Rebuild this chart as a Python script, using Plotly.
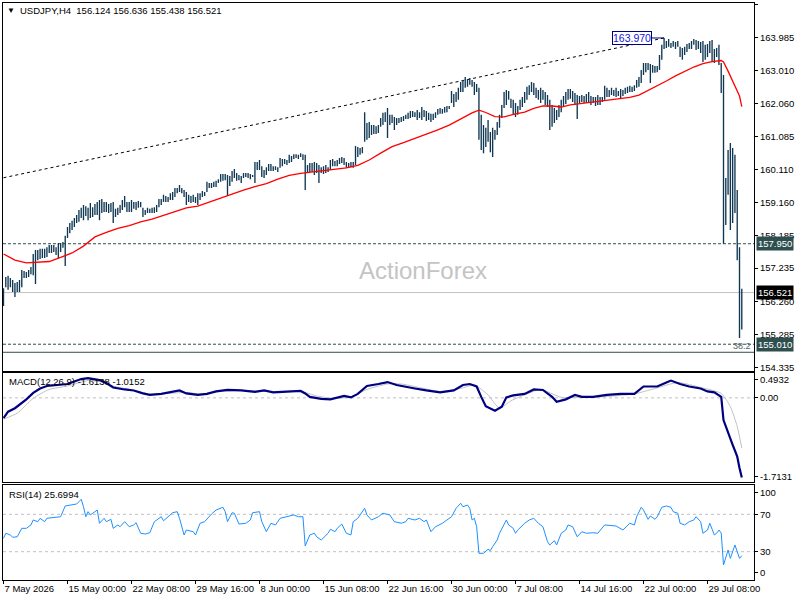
import plotly.graph_objects as go

# ---------------- data ----------------
tick_labels = ["7 May 2026", "15 May 00:00", "22 May 08:00", "29 May 16:00", "8 Jun 00:00",
               "15 Jun 08:00", "22 Jun 16:00", "30 Jun 00:00", "7 Jul 08:00", "14 Jul 16:00",
               "22 Jul 00:00", "29 Jul 08:00"]
bars_per_label = 28

highs = [
    156.65, 156.98, 157.01, 156.95, 156.89, 156.80, 156.83, 156.89, 157.18, 157.15,
    157.12, 157.18, 157.27, 157.65, 157.77, 157.77, 157.80, 157.80, 157.80, 157.85,
    157.91, 157.91, 157.91, 157.85, 157.97, 157.97, 158.00, 158.18, 158.44, 158.56,
    158.62, 158.70, 158.79, 158.94, 159.00, 159.08, 159.05, 159.00, 159.14, 159.02,
    159.11, 159.17, 159.23, 159.26, 159.17, 159.17, 159.11, 159.14, 159.17, 158.97,
    159.00, 159.08, 159.23, 159.35, 159.17, 159.17, 159.23, 159.17, 159.17, 159.20,
    159.17, 159.00, 158.94, 159.00, 158.97, 159.00, 159.02, 159.08, 159.26, 159.26,
    159.38, 159.35, 159.32, 159.43, 159.46, 159.58, 159.58, 159.67, 159.58, 159.52,
    159.46, 159.38, 159.35, 159.38, 159.32, 159.43, 159.43, 159.49, 159.46, 159.76,
    159.73, 159.73, 159.76, 159.79, 159.84, 159.99, 159.99, 159.99, 159.96, 159.93,
    160.08, 160.14, 160.02, 159.96, 159.93, 160.02, 160.02, 160.02, 159.99, 159.96,
    160.34, 160.34, 160.40, 160.22, 160.11, 160.19, 160.28, 160.28, 160.22, 160.22,
    160.19, 160.46, 160.43, 160.43, 160.40, 160.55, 160.52, 160.57, 160.57, 160.55,
    160.60, 160.57, 160.55, 160.25, 160.31, 160.31, 160.34, 160.31, 160.25, 160.19,
    160.22, 160.25, 160.19, 160.40, 160.43, 160.37, 160.40, 160.46, 160.49, 160.46,
    160.34, 160.31, 160.34, 160.34, 160.81, 160.78, 160.75, 160.78, 161.80, 161.48,
    161.51, 161.42, 161.42, 161.39, 161.42, 161.63, 161.78, 161.80, 161.92, 161.72,
    161.72, 161.66, 161.63, 161.63, 161.66, 161.69, 161.72, 161.78, 161.83, 161.83,
    161.80, 161.86, 161.80, 161.95, 161.86, 161.83, 161.78, 161.75, 161.75, 161.80,
    161.89, 161.92, 161.89, 161.95, 161.98, 161.98, 162.42, 162.33, 162.39, 162.51,
    162.68, 162.74, 162.83, 162.77, 162.80, 162.74, 162.68, 162.62, 162.51, 161.72,
    161.42, 161.34, 161.57, 161.22, 161.34, 161.28, 161.51, 161.72, 162.01, 162.39,
    162.45, 162.42, 162.19, 162.16, 162.07, 161.98, 162.16, 162.24, 162.39, 162.54,
    162.59, 162.68, 162.65, 162.51, 162.45, 162.51, 162.45, 162.39, 162.30, 162.16,
    162.01, 161.92, 161.86, 162.01, 162.16, 162.27, 162.39, 162.48, 162.48, 162.42,
    162.36, 162.30, 162.27, 162.30, 162.27, 162.33, 162.39, 162.27, 162.24, 162.24,
    162.30, 162.24, 162.24, 162.57, 162.51, 162.45, 162.51, 162.45, 162.51, 162.42,
    162.48, 162.45, 162.51, 162.54, 162.57, 162.54, 162.59, 162.74, 162.83, 163.03,
    163.24, 163.24, 163.24, 163.21, 163.18, 163.15, 163.15, 163.47, 163.77, 163.97,
    163.88, 163.94, 163.82, 163.88, 163.85, 163.88, 163.71, 163.68, 163.71, 163.79,
    163.82, 163.88, 163.94, 163.91, 163.88, 163.85, 163.88, 163.77, 163.79, 163.88,
    163.91, 163.65, 163.68, 163.77, 163.24, 162.89, 159.87, 160.69, 160.90, 160.75,
    160.55, 159.52, 157.85, 156.636,
]

lows = [
    156.13, 156.68, 156.60, 156.68, 156.54, 156.39, 156.54, 156.54, 156.68, 156.95,
    156.95, 156.98, 157.06, 157.03, 156.77, 157.47, 157.50, 157.53, 157.53, 157.56,
    157.68, 157.68, 157.71, 157.62, 157.53, 157.71, 157.83, 157.30, 158.12, 158.26,
    158.35, 158.44, 158.56, 158.59, 158.70, 158.64, 158.76, 158.64, 158.70, 158.73,
    158.79, 158.79, 158.64, 158.85, 158.88, 158.88, 158.85, 158.88, 158.56, 158.73,
    158.79, 158.85, 158.94, 159.02, 158.88, 158.88, 158.88, 158.97, 158.94, 159.00,
    159.02, 158.73, 158.79, 158.85, 158.85, 158.85, 158.85, 158.88, 159.02, 159.08,
    159.17, 159.17, 159.17, 159.23, 159.23, 159.32, 159.43, 159.46, 159.43, 159.32,
    159.08, 159.17, 159.14, 159.17, 159.14, 159.08, 159.23, 159.32, 159.35, 159.46,
    159.58, 159.58, 159.61, 159.61, 159.73, 159.76, 159.79, 159.81, 159.35, 159.64,
    159.76, 159.87, 159.79, 159.81, 159.73, 159.87, 159.90, 159.87, 159.84, 159.90,
    159.73, 160.11, 160.11, 159.90, 159.87, 159.96, 160.08, 160.08, 160.08, 160.11,
    160.05, 160.17, 160.22, 160.28, 160.25, 160.31, 160.34, 160.43, 160.46, 160.43,
    160.49, 160.40, 159.52, 160.02, 160.05, 160.05, 159.96, 160.02, 159.73, 160.02,
    159.99, 160.02, 160.05, 160.11, 160.22, 160.22, 160.22, 160.28, 160.31, 160.25,
    160.17, 160.17, 160.19, 160.17, 160.25, 160.49, 160.55, 160.60, 160.93, 160.99,
    161.04, 161.13, 161.16, 161.16, 161.19, 161.37, 161.42, 161.51, 161.04, 161.42,
    161.48, 161.28, 161.42, 161.48, 161.51, 161.54, 161.60, 161.60, 161.63, 161.66,
    161.66, 161.57, 161.63, 161.57, 161.66, 161.54, 161.57, 161.51, 161.57, 161.63,
    161.72, 161.75, 161.75, 161.78, 161.80, 161.89, 162.07, 161.95, 162.10, 162.16,
    162.39, 162.39, 162.51, 162.54, 162.60, 162.54, 162.30, 162.39, 160.99, 160.69,
    160.60, 160.78, 160.93, 160.63, 160.49, 160.99, 161.13, 161.34, 161.63, 161.92,
    162.01, 162.16, 161.92, 161.72, 161.66, 161.72, 161.86, 161.95, 162.07, 162.16,
    162.30, 162.39, 162.30, 162.21, 162.16, 162.07, 162.16, 162.01, 161.95, 161.28,
    161.37, 161.48, 161.57, 161.66, 161.80, 161.95, 162.04, 162.16, 162.19, 162.10,
    162.01, 161.60, 162.07, 162.10, 162.07, 162.07, 162.10, 162.01, 162.07, 161.98,
    162.01, 162.01, 162.10, 162.16, 162.24, 162.24, 162.30, 162.27, 162.24, 162.27,
    162.21, 162.27, 162.33, 162.36, 162.39, 162.39, 162.42, 162.51, 162.54, 162.65,
    162.89, 162.97, 163.03, 162.65, 162.95, 162.95, 162.97, 163.03, 163.33, 163.65,
    163.68, 163.71, 163.68, 163.71, 163.65, 163.71, 163.41, 163.33, 163.47, 163.56,
    163.65, 163.65, 163.77, 163.62, 163.65, 163.53, 163.27, 163.33, 163.41, 163.53,
    163.27, 163.24, 163.41, 163.18, 162.36, 157.95, 158.50, 159.38, 158.35, 158.56,
    158.85, 157.47, 155.19, 155.438,
]

ma_idx = [0, 5, 10, 15, 20, 25, 30, 35, 40, 45, 50, 55, 60, 65, 70, 75, 80, 85, 90, 95,
          100, 105, 110, 115, 120, 125, 130, 135, 140, 145, 150, 155, 160, 165, 170, 175,
          180, 185, 190, 195, 200, 205, 208, 211, 215, 219, 224, 228, 232, 236, 240, 244,
          248, 253, 260, 267, 274, 278, 282, 286, 290, 294, 298, 302, 306, 310, 314, 315,
          317, 319, 321, 322, 323]
ma_val = [157.65, 157.47, 157.39, 157.40, 157.43, 157.55, 157.68, 157.88, 158.15, 158.28,
          158.40, 158.48, 158.59, 158.67, 158.78, 158.89, 159.00, 159.05, 159.17, 159.27,
          159.39, 159.52, 159.62, 159.71, 159.84, 159.95, 160.01, 160.05, 160.08, 160.12,
          160.17, 160.24, 160.40, 160.60, 160.79, 160.91, 161.03, 161.15, 161.28, 161.42,
          161.60, 161.78, 161.86, 161.79, 161.67, 161.66, 161.75, 161.80, 161.91, 161.98,
          161.98, 161.95, 162.01, 162.05, 162.10, 162.16, 162.23, 162.30, 162.43, 162.56,
          162.71, 162.86, 163.00, 163.12, 163.22, 163.28, 163.31, 163.27, 163.00, 162.71,
          162.45, 162.27, 161.96]

macd_idx = [0, 2, 5, 7, 10, 13, 16, 19, 23, 28, 31, 34, 37, 40, 42, 45, 48, 53, 57, 61,
            64, 69, 73, 77, 80, 85, 89, 93, 98, 104, 110, 114, 118, 124, 130, 132, 134, 139,
            143, 149, 152, 155, 159, 164, 168, 172, 174, 180, 185, 191, 197, 201, 204, 207,
            209, 211, 215, 218, 220, 223, 228, 232, 236, 240, 242, 246, 250, 253, 258, 264,
            270, 276, 280, 286, 290, 292, 296, 300, 305, 308, 311, 314, 315, 317, 319, 320,
            321, 322, 323]
macd_val = [-0.41, -0.28, -0.21, -0.14, -0.03, 0.10, 0.19, 0.24, 0.26, 0.28, 0.33, 0.38,
            0.40, 0.38, 0.36, 0.30, 0.21, 0.17, 0.15, 0.09, 0.06, 0.08, 0.11, 0.15, 0.09,
            0.06, 0.08, 0.13, 0.16, 0.15, 0.12, 0.15, 0.11, 0.13, 0.14, 0.09, 0.02, -0.02,
            -0.03, 0.04, 0.01, 0.08, 0.24, 0.28, 0.32, 0.26, 0.24, 0.19, 0.15, 0.11, 0.15,
            0.26, 0.28, 0.23, 0.02, -0.17, -0.26, -0.18, 0.01, 0.05, 0.08, 0.17, 0.16, 0.02,
            -0.08, -0.03, 0.06, 0.02, 0.02, 0.06, 0.08, 0.08, 0.23, 0.23, 0.31, 0.35, 0.28,
            0.23, 0.19, 0.13, 0.11, 0.02, -0.45, -0.72, -0.95, -1.07, -1.19, -1.42, -1.6138]

signal_idx = [0, 6, 13, 20, 28, 37, 42, 48, 57, 64, 72, 80, 86, 95, 104, 118, 130, 137, 144,
              152, 159, 168, 174, 182, 191, 200, 206, 212, 217, 222, 229, 235, 244, 250, 261,
              276, 285, 295, 305, 314, 318, 321, 323]
signal_val = [-0.43, -0.31, -0.01, 0.17, 0.24, 0.35, 0.33, 0.24, 0.15, 0.08, 0.09, 0.11,
              0.08, 0.13, 0.15, 0.13, 0.13, 0.04, -0.01, 0.02, 0.17, 0.28, 0.28, 0.21, 0.13,
              0.19, 0.26, 0.06, -0.21, -0.06, 0.08, 0.17, 0.01, 0.01, 0.02, 0.08, 0.19, 0.31,
              0.21, 0.09, -0.18, -0.58, -1.0152]

rsi_points = [
    (0, 44.3), (1, 49.7), (3, 47.9), (4, 45.4), (6, 46.0), (8, 55.0), (10, 55.0), (12, 58.6),
    (13, 63.9), (15, 62.1), (16, 65.7), (18, 62.1), (19, 65.7), (22, 66.8), (25, 67.4),
    (27, 78.9), (29, 79.9), (32, 81.0), (33, 83.5), (34, 86.0), (35, 78.1), (36, 67.4),
    (37, 72.8), (38, 69.3), (40, 72.8), (41, 74.6), (42, 60.4), (44, 65.7), (45, 62.1),
    (47, 64.6), (48, 55.0), (50, 58.6), (51, 56.7), (53, 62.1), (55, 56.7), (57, 58.6),
    (58, 61.0), (60, 49.7), (62, 48.9), (64, 50.3), (66, 62.1), (69, 67.4), (70, 63.1),
    (72, 67.4), (74, 71.7), (76, 72.8), (77, 65.7), (79, 47.9), (80, 53.2), (83, 51.4),
    (84, 47.9), (86, 60.4), (88, 62.1), (91, 70.3), (93, 74.6), (96, 77.5), (97, 72.8),
    (98, 62.1), (100, 71.7), (101, 71.1), (103, 59.6), (106, 60.4), (108, 63.9), (109, 71.7),
    (112, 72.8), (113, 62.1), (115, 51.4), (117, 60.4), (119, 58.6), (121, 65.7), (124, 67.4),
    (127, 69.3), (129, 67.4), (131, 67.4), (132, 36.1), (134, 47.9), (136, 49.7), (137, 46.0),
    (139, 42.5), (142, 49.7), (143, 54.0), (145, 51.4), (146, 55.0), (148, 59.6), (150, 49.7),
    (152, 47.9), (153, 62.1), (155, 65.7), (158, 76.4), (159, 69.3), (161, 63.9), (164, 67.4),
    (166, 71.1), (169, 69.3), (171, 62.1), (174, 60.4), (176, 62.1), (177, 65.7), (180, 63.9),
    (182, 65.7), (184, 62.1), (185, 63.9), (187, 51.4), (189, 56.7), (192, 60.4), (196, 67.4),
    (198, 76.4), (200, 81.8), (201, 78.1), (203, 79.9), (204, 76.4), (205, 63.9), (206, 65.7),
    (207, 56.7), (208, 28.3), (210, 28.3), (212, 32.6), (213, 31.1), (214, 35.4), (216, 42.5),
    (217, 49.7), (219, 60.4), (220, 63.9), (221, 58.6), (223, 55.0), (224, 49.7), (225, 53.2),
    (228, 60.4), (230, 63.9), (232, 65.7), (234, 60.4), (236, 56.7), (238, 40.7), (239, 37.2),
    (241, 41.8), (242, 37.2), (244, 49.7), (246, 53.2), (247, 58.6), (249, 56.7), (251, 46.0),
    (253, 51.4), (255, 49.7), (258, 50.3), (260, 49.7), (263, 58.6), (266, 57.5), (268, 57.5),
    (271, 53.2), (273, 58.6), (274, 60.4), (276, 58.6), (277, 67.4), (279, 77.5), (280, 74.6),
    (282, 64.6), (283, 68.2), (285, 64.6), (286, 67.4), (288, 77.5), (290, 78.9), (292, 77.5),
    (293, 72.8), (295, 71.1), (296, 60.4), (298, 58.6), (300, 62.1), (302, 63.9), (303, 67.4),
    (305, 62.1), (306, 49.7), (308, 53.2), (309, 60.4), (311, 47.9), (312, 49.7), (313, 53.2),
    (314, 50.0), (315, 15.8), (316, 24.7), (317, 31.8), (318, 22.9), (320, 37.2), (321, 30.0),
    (322, 22.9), (323, 25.6994),
]

price_ticks = [164.935, 163.985, 163.010, 162.060, 161.085, 160.110, 159.160,
               158.185, 157.235, 156.260, 155.285, 154.335]
trend_idx = [0, 289]
trend_price = [159.88, 163.970]
marked_high = 163.970
dashed_levels = [157.950, 155.010]
solid_level = 154.774
last_price = 156.521
fib_label = "38.2"
header = "USDJPY,H4\u00a0\u00a0156.124 156.636 155.438 156.521"
macd_header = "MACD(12,26,9) -1.6138 -1.0152"
rsi_header = "RSI(14) 25.6994"

assert len(highs) == len(lows)
assert len(ma_idx) == len(ma_val)
assert len(macd_idx) == len(macd_val)
assert len(signal_idx) == len(signal_val)

# ---------------- figure ----------------
FONT = "Liberation Sans, Arial, sans-serif"
BAR_COLOR = "#0f3752"
SLATE = "#2f4f4f"

bar_x, bar_y = [], []
for i, (lo, hi) in enumerate(zip(lows, highs)):
    bar_x += [i, i, None]
    bar_y += [lo, hi, None]

rsi_idx = [p[0] for p in rsi_points]
rsi_val = [p[1] for p in rsi_points]

fig = go.Figure()

fig.add_trace(go.Scatter(x=trend_idx, y=trend_price, mode="lines",
                         line=dict(color="black", width=1, dash="3px,3px"),
                         xaxis="x", yaxis="y", hoverinfo="skip"))
fig.add_trace(go.Scatter(x=bar_x, y=bar_y, mode="lines",
                         line=dict(color=BAR_COLOR, width=1.35),
                         xaxis="x", yaxis="y", hoverinfo="skip"))
fig.add_trace(go.Scatter(x=ma_idx, y=ma_val, mode="lines",
                         line=dict(color="#ff0000", width=1.3),
                         xaxis="x", yaxis="y", hoverinfo="skip"))

fig.add_trace(go.Scatter(x=signal_idx, y=signal_val, mode="lines",
                         line=dict(color="#c0c0c0", width=1, shape="spline", smoothing=0.6),
                         xaxis="x2", yaxis="y2", hoverinfo="skip"))
fig.add_trace(go.Scatter(x=macd_idx, y=macd_val, mode="lines",
                         line=dict(color="#000080", width=2.2),
                         xaxis="x2", yaxis="y2", hoverinfo="skip"))

fig.add_trace(go.Scatter(x=rsi_idx, y=rsi_val, mode="lines",
                         line=dict(color="#1e90ff", width=1),
                         xaxis="x3", yaxis="y3", hoverinfo="skip"))

x_range = [-0.22, 328.34]
common_x = dict(range=x_range, showgrid=False, zeroline=False, showline=True,
                mirror=True, linecolor="black", linewidth=1, automargin=False)
common_y = dict(showgrid=False, zeroline=False, showline=True, mirror=True,
                linecolor="black", linewidth=1, side="right", ticks="outside",
                ticklen=3, tickcolor="black", automargin=False,
                tickfont=dict(family=FONT, size=9.5, color="black"))

tickvals_x = [k * bars_per_label for k in range(len(tick_labels))]

fig.update_layout(
    width=800, height=600,
    margin=dict(l=3, r=46, t=3, b=20, autoexpand=False),
    paper_bgcolor="white", plot_bgcolor="white",
    showlegend=False, hovermode=False,
    font=dict(family=FONT, size=9.5, color="black"),
    xaxis=dict(domain=[0, 1], anchor="y", showticklabels=False, ticks="", **common_x),
    xaxis2=dict(domain=[0, 1], anchor="y2", showticklabels=False, ticks="", **common_x),
    xaxis3=dict(domain=[0, 1], anchor="y3", tickvals=tickvals_x, ticktext=tick_labels,
                ticks="outside", ticklen=3, tickcolor="black", tickangle=0,
                ticklabelposition="outside right",
                tickfont=dict(family=FONT, size=9.5, color="black"), **common_x),
    yaxis=dict(domain=[0.36308, 1.0], range=[154.241, 164.993], anchor="x",
               tickvals=price_ticks, ticktext=[f"{v:.3f}" for v in price_ticks], **common_y),
    yaxis2=dict(domain=[0.16898, 0.35789], range=[-1.7130, 0.4932], anchor="x2",
                tickvals=[0.376, 0.0, -1.596], ticktext=["0.4932", "0.00", "-1.7131"],
                **common_y),
    yaxis3=dict(domain=[0.0, 0.16378], range=[-0.27, 100.8], anchor="x3",
                tickvals=[93.5, 70, 30, 8.0], ticktext=["100", "70", "30", "0"],
                **common_y),
)

shapes = []
for lvl in dashed_levels:
    shapes.append(dict(type="line", xref="x domain", yref="y", x0=0, x1=1, y0=lvl, y1=lvl,
                       line=dict(color=SLATE, width=1, dash="3px,2px"), layer="below"))
shapes.append(dict(type="line", xref="x domain", yref="y", x0=0, x1=1,
                   y0=solid_level, y1=solid_level, line=dict(color=SLATE, width=1)))
shapes.append(dict(type="line", xref="x domain", yref="y", x0=0, x1=1,
                   y0=last_price, y1=last_price, line=dict(color="#c0c0c0", width=1),
                   layer="below"))
shapes.append(dict(type="line", xref="x2 domain", yref="y2", x0=0, x1=1, y0=0, y1=0,
                   line=dict(color="#c0c0c0", width=1, dash="3px,3px"), layer="below"))
for lvl in (70, 30):
    shapes.append(dict(type="line", xref="x3 domain", yref="y3", x0=0, x1=1, y0=lvl, y1=lvl,
                       line=dict(color="#c0c0c0", width=1, dash="3px,3px"), layer="below"))
fig.update_layout(shapes=shapes)

ann = []
# watermark
ann.append(dict(text="ActionForex", xref="paper", yref="paper", x=0.5599, y=0.5356,
                xanchor="center", yanchor="middle", showarrow=False,
                font=dict(family=FONT, size=24, color="#c4c4c4")))
# headers
ann.append(dict(text="\u25bc", xref="paper", yref="paper", x=0.0033, y=0.9878,
                xanchor="left", yanchor="middle", showarrow=False,
                font=dict(family=FONT, size=8, color="black")))
ann.append(dict(text=header, xref="paper", yref="paper", x=0.0195, y=0.9878,
                xanchor="left", yanchor="middle", showarrow=False,
                font=dict(family=FONT, size=9.5, color="black")))
ann.append(dict(text=macd_header, xref="paper", yref="paper", x=0.0055, y=0.3436,
                xanchor="left", yanchor="middle", showarrow=False,
                font=dict(family=FONT, size=9.5, color="black")))
ann.append(dict(text=rsi_header, xref="paper", yref="paper", x=0.0055, y=0.1486,
                xanchor="left", yanchor="middle", showarrow=False,
                font=dict(family=FONT, size=9.5, color="black")))
# right-side price labels
for lvl, bg in ((dashed_levels[0], SLATE), (last_price, "black"), (dashed_levels[1], SLATE)):
    ann.append(dict(text=f"{lvl:.3f}", xref="paper", yref="y", x=1.0027, y=lvl,
                    xanchor="left", yanchor="middle", showarrow=False, bgcolor=bg,
                    borderpad=1, font=dict(family=FONT, size=9.5, color="white")))
# fib label
ann.append(dict(text=fib_label, xref="paper", yref="y", x=0.9987, y=dashed_levels[1] - 0.05,
                xanchor="right", yanchor="middle", showarrow=False,
                font=dict(family=FONT, size=9, color="#4f5f5f")))
# marked high label
ann.append(dict(text=f"{marked_high:.3f}", xref="x", yref="y", x=trend_idx[1], y=marked_high,
                showarrow=True, arrowhead=0, arrowwidth=1, arrowcolor="#000080",
                ax=-32, ay=0, bgcolor="white", bordercolor="#000080", borderwidth=1,
                borderpad=0, font=dict(family=FONT, size=10.5, color="#1414d8")))
fig.update_layout(annotations=ann)

fig.write_html("out.html",
               config={"displayModeBar": False},
               post_script="document.body.style.margin='0px';"
                           "document.body.style.overflow='hidden';")
